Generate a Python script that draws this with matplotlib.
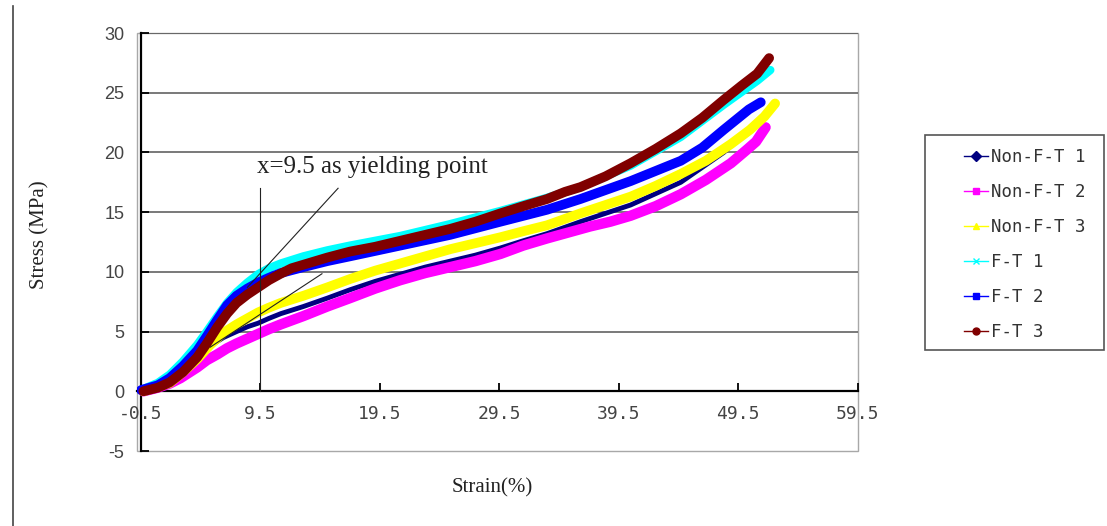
import matplotlib.pyplot as plt
from matplotlib.lines import Line2D
from matplotlib.patches import Rectangle

# Data
labels = ['Non-F-T 1', 'Non-F-T 2', 'Non-F-T 3', 'F-T 1', 'F-T 2', 'F-T 3']

nft1_x = [-0.5, 0.9, 1.9, 3.0, 4.2, 5.3, 6.4, 7.5, 8.4, 9.3, 10.2, 11.2, 13.1, 15.1, 17.0, 19.1, 21.2,
          23.3, 25.4, 27.5, 29.6, 31.5, 33.5, 36.3, 40.5, 44.7, 48.3, 50.3]
nft1_y = [0.1, 0.4, 0.9, 1.8, 2.8, 3.8, 4.5, 5.0, 5.4, 5.7, 6.1, 6.5, 7.1, 7.8, 8.5, 9.2, 9.8,
          10.4, 10.9, 11.4, 12.0, 12.6, 13.2, 14.2, 15.6, 17.5, 20.0, 21.8]

nft2_x = [-0.3, 0.9, 1.9, 2.8, 4.2, 5.0, 5.9, 6.7, 7.5, 8.4, 9.3, 10.2, 11.2, 13.1, 15.1, 17.0, 19.1,
          21.2, 23.3, 25.4, 27.5, 29.6, 31.5, 33.5, 35.3, 37.1, 38.8, 40.5, 42.6, 44.7, 46.8, 48.9,
          50.2, 51.0, 51.8]
nft2_y = [0.0, 0.3, 0.65, 1.1, 2.0, 2.6, 3.1, 3.6, 4.0, 4.4, 4.8, 5.2, 5.6, 6.3, 7.1, 7.8, 8.6,
          9.3, 9.9, 10.4, 10.9, 11.5, 12.2, 12.8, 13.3, 13.8, 14.2, 14.7, 15.5, 16.5, 17.7, 19.1,
          20.2, 20.9, 22.1]

nft3_x = [-0.3, 1.9, 3.0, 4.2, 5.3, 6.4, 7.5, 8.4, 9.3, 10.2, 11.2, 13.1, 15.1, 17.0, 19.1, 21.2,
          23.3, 25.4, 27.5, 29.6, 31.5, 33.5, 36.3, 38.4, 40.5, 42.6, 44.7, 46.8, 48.9, 50.5, 51.7, 52.6]
nft3_y = [0.0, 0.7, 1.6, 2.7, 3.9, 4.9, 5.6, 6.1, 6.6, 7.0, 7.4, 8.0, 8.7, 9.4, 10.1, 10.7,
          11.3, 11.9, 12.4, 12.9, 13.4, 13.9, 14.9, 15.6, 16.3, 17.2, 18.2, 19.3, 20.7, 21.9, 23.0, 24.1]

ft1_x = [-0.3, 0.9, 1.9, 3.0, 4.2, 5.0, 5.9, 6.7, 7.5, 8.4, 9.3, 10.2, 11.2, 13.1, 15.1, 17.0, 21.2,
         25.4, 29.6, 33.5, 36.3, 40.5, 44.7, 48.3, 51.1, 52.2]
ft1_y = [0.2, 0.7, 1.4, 2.5, 3.9, 5.0, 6.3, 7.4, 8.3, 9.1, 9.8, 10.3, 10.7, 11.3, 11.8, 12.2, 13.0,
         14.0, 15.1, 16.2, 17.1, 18.9, 21.3, 24.0, 26.0, 26.9]

ft2_x = [-0.5, 0.9, 1.9, 3.0, 4.2, 5.0, 5.9, 6.7, 7.5, 8.4, 9.3, 10.2, 11.2, 13.1, 15.1, 17.0, 21.2,
         25.4, 29.6, 33.5, 36.3, 40.5, 44.7, 46.5, 48.3, 50.4, 51.4]
ft2_y = [0.1, 0.5, 1.1, 2.1, 3.4, 4.6, 6.0, 7.2, 8.0, 8.6, 9.1, 9.5, 9.9, 10.4, 10.9, 11.3, 12.2,
         13.1, 14.2, 15.2, 16.1, 17.6, 19.3, 20.4, 21.9, 23.6, 24.2]

ft3_x = [-0.3, 0.9, 1.9, 3.0, 4.2, 5.0, 5.9, 6.7, 7.5, 8.4, 9.3, 10.2, 11.2, 12.1, 13.1, 14.1, 15.1,
         17.0, 19.1, 21.2, 23.3, 25.4, 27.5, 29.6, 31.5, 33.5, 35.0, 36.3, 38.4, 40.5, 42.6, 44.7,
         46.5, 48.3, 49.8, 51.1, 52.1]
ft3_y = [0.0, 0.3, 0.75, 1.6, 2.85, 4.0, 5.4, 6.5, 7.4, 8.1, 8.7, 9.3, 9.85, 10.3, 10.6, 10.9, 11.2,
         11.7, 12.1, 12.6, 13.1, 13.6, 14.2, 14.9, 15.5, 16.1, 16.7, 17.1, 18.0, 19.1, 20.3, 21.6,
         22.9, 24.4, 25.6, 26.6, 27.9]

xticks = [-0.5, 9.5, 19.5, 29.5, 39.5, 49.5, 59.5]
xtick_labels = ['-0.5', '9.5', '19.5', '29.5', '39.5', '49.5', '59.5']
yticks = [-5, 0, 5, 10, 15, 20, 25, 30]

# annotation guide lines (yield point construction)
yield_x = 9.5
vline_y = [0, 17.0]
diag1_x = [16.0, 8.4]
diag1_y = [17.0, 8.7]
diag2_x = [14.65, 5.3]
diag2_y = [9.84, 3.7]

colors = ['#000080', '#ff00ff', '#ffff00', '#00ffff', '#0000ff', '#800000']
markers = ['D', 's', '^', 'x', 's', 'o']
widths = [3.5, 7.5, 7, 6, 7, 7]
series = [(nft1_x, nft1_y), (nft2_x, nft2_y), (nft3_x, nft3_y),
          (ft1_x, ft1_y), (ft2_x, ft2_y), (ft3_x, ft3_y)]

W, H = 1107, 526
fig = plt.figure(figsize=(W / 100, H / 100), dpi=100)
ax = fig.add_axes([137 / W, 1 - 451 / H, (857.5 - 137) / W, (451 - 33) / H])
ax.set_xlim(-0.84, 59.5)
ax.set_ylim(-5, 30)

# grid lines
for y in yticks[2:]:
    ax.plot([-0.5, 59.5], [y, y], color='#555555', lw=1.1, zorder=1)

for (x, y), c, lw in zip(series, colors, widths):
    ax.plot(x, y, color=c, lw=lw, solid_capstyle='round', solid_joinstyle='round', zorder=3)

# guide lines and note
ax.plot([yield_x, yield_x], vline_y, color='#222222', lw=0.8, zorder=5)
ax.plot(diag1_x, diag1_y, color='#222222', lw=0.8, zorder=5)
ax.plot(diag2_x, diag2_y, color='#222222', lw=0.8, zorder=5)
ax.text(9.22, 18.25, 'x=9.5 as yielding point', family='Liberation Serif',
        fontsize=18, color='#222222', ha='left', va='baseline', zorder=6)

# axes styling
for s in ['top', 'right']:
    ax.spines[s].set_visible(False)
ax.spines['left'].set_position(('data', -0.5))
ax.spines['bottom'].set_position(('data', 0))
ax.spines['left'].set_linewidth(1.6)
ax.spines['bottom'].set_linewidth(1.6)
ax.spines['left'].set_zorder(2)
ax.spines['bottom'].set_zorder(2)
ax.add_patch(Rectangle((0, 0), 1, 1, transform=ax.transAxes, fill=False,
                       ec='#a8a8a8', lw=1.0, clip_on=False, zorder=0))

ax.set_xticks(xticks)
ax.set_xticklabels(xtick_labels, family='DejaVu Sans Mono', fontsize=13, color='#444444')
ax.set_yticks(yticks)
ax.set_yticklabels([str(v) for v in yticks], family='Liberation Sans', fontsize=13, color='#444444')
ax.tick_params(axis='both', direction='in', length=6, width=1.3, color='black')
ax.tick_params(axis='x', pad=10)
ax.tick_params(axis='y', pad=12)

ax.set_ylabel('Stress (MPa)', family='Liberation Serif', fontsize=15, color='#222222')
ax.yaxis.set_label_coords(-0.122, 0.517)
ax.set_xlabel('Strain(%)', family='Liberation Serif', fontsize=15, color='#222222')
ax.xaxis.label.set_va('center')
ax.xaxis.set_label_coords(0.4927, -0.0885)

# legend: frame drawn separately to match the reference box
fig.add_artist(Rectangle((925 / W, 1 - 350 / H), (1104 - 925) / W, (350 - 135) / H,
                         transform=fig.transFigure, fill=False, ec='#555555', lw=1.2))
handles = [Line2D([], [], color=c, marker=m, lw=1, markersize=5, mec=c)
           for c, m in zip(colors, markers)]
fig.legend(handles, labels, loc='upper left', bbox_to_anchor=(955 / W, 1 - 139 / H),
           frameon=False, borderpad=0, handlelength=1.4, handletextpad=0.15,
           labelspacing=0.98, prop={'family': 'DejaVu Sans Mono', 'size': 12.5},
           labelcolor='#333333')

# page border line on the left
fig.add_artist(Line2D([13 / W, 13 / W], [0, 1 - 6 / H], transform=fig.transFigure,
                      color='#444444', lw=1.2))

fig.savefig('out.png', dpi=100)
